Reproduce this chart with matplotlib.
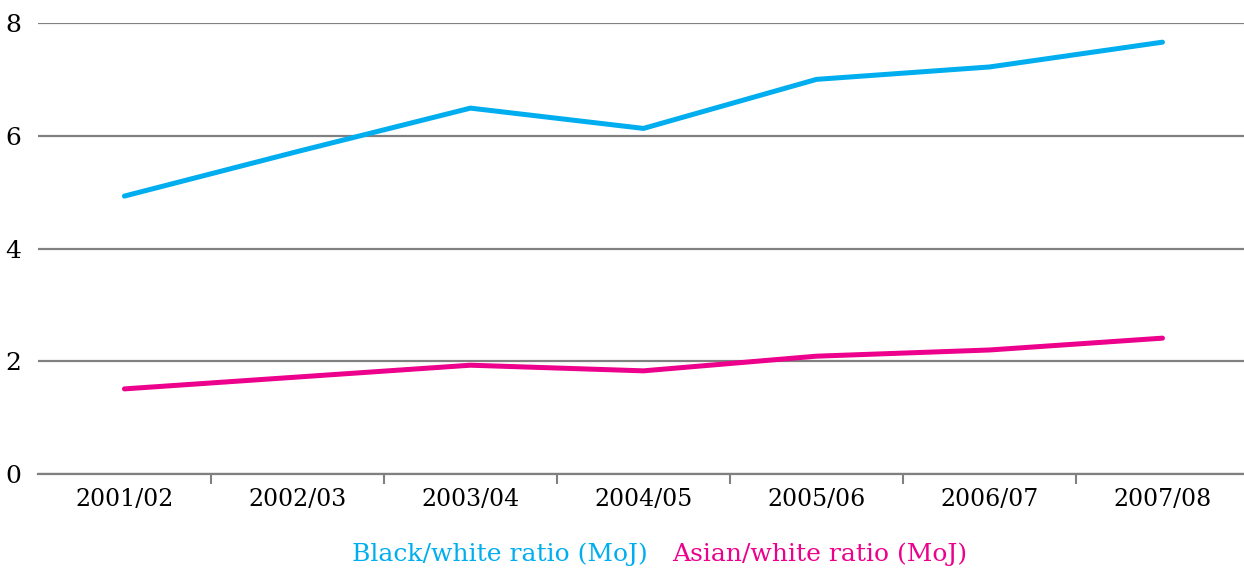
import numpy as np
import matplotlib.pyplot as plt

# Ratios
years = ['2001/02', '2002/03', '2003/04', '2004/05', '2005/06', '2006/07', '2007/08']
black_white = [4.93, 5.72, 6.49, 6.13, 7.00, 7.22, 7.66]
asian_white = [1.51, 1.72, 1.93, 1.83, 2.09, 2.20, 2.41]

blue = '#00AEEF'
pink = '#EC008C'
grid_gray = '#808080'

plt.rcParams['font.family'] = ['DejaVu Serif']

fig = plt.figure(figsize=(12.44, 5.72), dpi=100)
ax = fig.add_axes([0.0305, 0.1713, 0.9735, 0.7885])

x = np.arange(len(years))
ax.plot(x, black_white, color=blue, lw=3.6, solid_capstyle='round', solid_joinstyle='round', zorder=3)
ax.plot(x, asian_white, color=pink, lw=3.6, solid_capstyle='round', solid_joinstyle='round', zorder=3)

ax.set_xlim(-0.5, len(years) - 0.5)
ax.set_ylim(0, 8)

# horizontal gridlines
ax.set_yticks([0, 2, 4, 6, 8])
ax.yaxis.grid(True, color=grid_gray, lw=1.6)
ax.set_axisbelow(True)
ax.tick_params(axis='y', length=0, pad=12, labelsize=18)

ax.set_xticks(x)
ax.set_xticklabels(years)
# boundary ticks between categories only
ax.set_xticks(np.arange(1, len(years)) - 0.5, minor=True)
ax.tick_params(axis='x', which='major', length=0, pad=10, labelsize=17)
ax.tick_params(axis='x', which='minor', length=7, width=1.5, color=grid_gray)

for side in ['top', 'right', 'left']:
    ax.spines[side].set_visible(False)
ax.spines['bottom'].set_color(grid_gray)
ax.spines['bottom'].set_linewidth(1.6)

# legend as coloured text
fig.text(0.521, 0.02, 'Black/white ratio (MoJ)', color=blue, ha='right', va='baseline', fontsize=18)
fig.text(0.540, 0.02, 'Asian/white ratio (MoJ)', color=pink, ha='left', va='baseline', fontsize=18)

fig.savefig('out.png', dpi=100)
